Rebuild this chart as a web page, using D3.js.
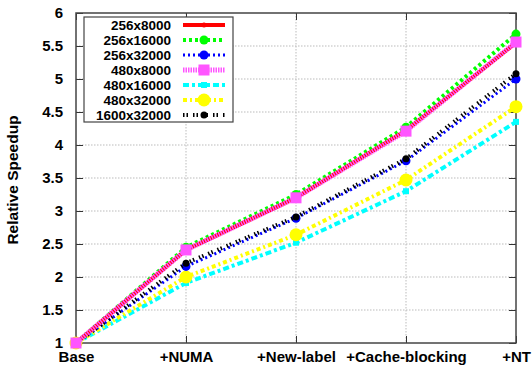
<html>
<head>
<style>
  body { margin: 0; background: #fff; }
  svg text { font-family: "Liberation Sans", Arial, sans-serif; font-weight: bold; fill: #000; }
</style>
</head>
<body>
<svg class="chart" width="532" height="366"></svg>
<script src="https://d3js.org/d3.v7.min.js"></script>
<script>
var categories = ["Base", "+NUMA", "+New-label", "+Cache-blocking", "+NT"];
var yTicks = [1, 1.5, 2, 2.5, 3, 3.5, 4, 4.5, 5, 5.5, 6];
var seriesNames = ["256x8000", "256x16000", "256x32000", "480x8000", "480x16000", "480x32000", "1600x32000"];
var s256x8000 = [1, 2.41, 3.2, 4.22, 5.55];
var s256x16000 = [1, 2.45, 3.25, 4.27, 5.68];
var s256x32000 = [1, 2.16, 2.89, 3.76, 5.0];
var s480x8000 = [1, 2.41, 3.2, 4.21, 5.56];
var s480x16000 = [1, 1.91, 2.52, 3.3, 4.35];
var s480x32000 = [1, 2.0, 2.64, 3.47, 4.58];
var s1600x32000 = [1, 2.21, 2.91, 3.79, 5.08];
var seriesValues = [s256x8000, s256x16000, s256x32000, s480x8000, s480x16000, s480x32000, s1600x32000];

// styles per series
var styles = [
  { color: "#ff0000", width: 4, dash: null, marker: "circle", size: 2.5 },
  { color: "#00ff00", width: 4, dash: "3,3", marker: "circle", size: 4.5 },
  { color: "#0000ff", width: 3, dash: "2,3", marker: "circle", size: 4.5 },
  { color: "#ff55ff", width: 5, dash: "1.5,1", marker: "square", size: 11 },
  { color: "#00ffff", width: 4, dash: "6,3,3,3", marker: "square", size: 6 },
  { color: "#ffff00", width: 4, dash: "4,3,2,3", marker: "circle", size: 6.5 },
  { color: "#000000", width: 4, dash: "1.5,2,1.5,5", marker: "circle", size: 3.5 }
];

var pLeft = 76, pRight = 516, pTop = 13, pBottom = 343;
var svg = d3.select(".chart");

var x = d3.scalePoint().domain(categories).range([pLeft, pRight]);
var y = d3.scaleLinear().domain([1, 6]).range([pBottom, pTop]);

// grid
svg.append("g").selectAll("line").data(yTicks.slice(1, -1)).enter().append("line")
  .attr("x1", pLeft).attr("x2", pRight)
  .attr("y1", function(d) { return y(d); }).attr("y2", function(d) { return y(d); })
  .attr("stroke", "#bbb").attr("stroke-width", 1).attr("stroke-dasharray", "1.5,1.5");
svg.append("g").selectAll("line").data(categories.slice(1, -1)).enter().append("line")
  .attr("y1", pTop).attr("y2", pBottom)
  .attr("x1", function(d) { return x(d); }).attr("x2", function(d) { return x(d); })
  .attr("stroke", "#bbb").attr("stroke-width", 1).attr("stroke-dasharray", "1.5,1.5");

// axes with inward ticks
var yAxis = svg.append("g").attr("transform", "translate(" + pLeft + ",0)")
  .call(d3.axisLeft(y).tickValues(yTicks).tickSize(-7).tickPadding(13)
    .tickFormat(function(d) { return d; }));
var yAxisR = svg.append("g").attr("transform", "translate(" + pRight + ",0)")
  .call(d3.axisRight(y).tickValues(yTicks).tickSize(-7).tickFormat(""));
var xAxis = svg.append("g").attr("transform", "translate(0," + pBottom + ")")
  .call(d3.axisBottom(x).tickSize(-7).tickPadding(8));
var xAxisT = svg.append("g").attr("transform", "translate(0," + pTop + ")")
  .call(d3.axisTop(x).tickSize(-7).tickFormat(""));
[yAxis, yAxisR, xAxis, xAxisT].forEach(function(a) {
  a.select(".domain").remove();
  a.selectAll("line").attr("stroke", "#333").attr("stroke-width", 1);
  a.selectAll("text").style("font-size", "15px").style("font-family", "Liberation Sans, Arial, sans-serif")
    .style("font-weight", "bold").attr("fill", "#000");
});
yAxis.selectAll("text").attr("dy", "0.32em");
xAxis.selectAll("text").attr("dy", "0.71em");

// frame
svg.append("rect").attr("x", pLeft).attr("y", pTop).attr("width", pRight - pLeft).attr("height", pBottom - pTop)
  .attr("fill", "none").attr("stroke", "#444").attr("stroke-width", 1.5);

svg.append("text").attr("transform", "translate(13,180) rotate(-90)")
  .attr("text-anchor", "middle").attr("dy", "0.35em").style("font-size", "15.5px")
  .text("Relative Speedup");

var line = d3.line().x(function(d, i) { return x(categories[i]); }).y(function(d) { return y(d); });

function drawMarker(g, st, cx, cy) {
  if (st.marker === "square") {
    g.append("rect").attr("x", cx - st.size / 2).attr("y", cy - st.size / 2)
      .attr("width", st.size).attr("height", st.size).attr("fill", st.color);
  } else {
    g.append("circle").attr("cx", cx).attr("cy", cy).attr("r", st.size).attr("fill", st.color);
  }
}

// draw order: the later ones on top
var order = [4, 5, 2, 6, 1, 0, 3];
order.forEach(function(k) {
  var st = styles[k];
  var g = svg.append("g");
  g.append("path").datum(seriesValues[k]).attr("d", line)
    .attr("fill", "none").attr("stroke", st.color).attr("stroke-width", st.width)
    .attr("stroke-dasharray", st.dash);
  seriesValues[k].forEach(function(v, i) { drawMarker(g, st, x(categories[i]), y(v)); });
});

// legend
var legend = svg.append("g");
legend.append("rect").attr("x", 84).attr("y", 17).attr("width", 149).attr("height", 105)
  .attr("fill", "#fff").attr("stroke", "#444").attr("stroke-width", 1.2);
seriesNames.forEach(function(name, k) {
  var st = styles[k];
  var ly = 25 + k * 15;
  legend.append("text").attr("x", 171).attr("y", ly).attr("dy", "0.35em")
    .attr("text-anchor", "end").style("font-size", "13.5px").text(name);
  legend.append("line").attr("x1", 183).attr("x2", 225).attr("y1", ly).attr("y2", ly)
    .attr("stroke", st.color).attr("stroke-width", st.width).attr("stroke-dasharray", st.dash);
  drawMarker(legend, st, 204, ly);
});
</script>
</body>
</html>
